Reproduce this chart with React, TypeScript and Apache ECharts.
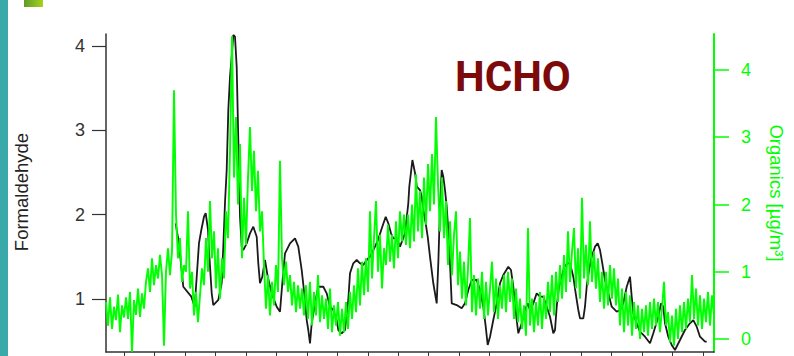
import React, { useEffect, useRef } from "react";
import * as echarts from "echarts";

// HCHO (formaldehyde) time series, left axis
const hchoTime = [
  2.287, 2.320, 2.396, 2.471, 2.537, 2.800, 2.911, 2.977, 3.052, 3.128, 3.216, 3.272, 3.348, 3.380, 3.469, 3.522,
  3.686, 3.797, 3.850, 3.905, 3.961, 4.014, 4.070, 4.125, 4.178, 4.234, 4.289, 4.342, 4.398, 4.454, 4.506, 4.618,
  4.726, 4.834, 4.946, 4.998, 5.054, 5.130, 5.218, 5.307, 5.438, 5.602, 5.711, 5.786, 5.875, 6.039, 6.203, 6.311,
  6.423, 6.508, 6.587, 6.639, 6.695, 6.751, 6.859, 6.967, 7.132, 7.243, 7.351, 7.460, 7.571, 7.624, 7.736, 7.844,
  7.952, 8.008, 8.116, 8.228, 8.336, 8.444, 8.556, 8.664, 8.773, 8.927, 9.068, 9.180, 9.265, 9.354, 9.429, 9.541,
  9.649, 9.813, 9.921, 9.954, 10.056, 10.144, 10.200, 10.305, 10.361, 10.414, 10.492, 10.558, 10.633, 10.742,
  10.853, 10.906, 10.962, 11.017, 11.070, 11.126, 11.181, 11.234, 11.290, 11.346, 11.510, 11.674, 11.782, 11.891,
  12.002, 12.166, 12.275, 12.383, 12.462, 12.527, 12.603, 12.711, 12.823, 12.931, 13.039, 13.203, 13.292, 13.367,
  13.423, 13.479, 13.532, 13.643, 13.751, 13.840, 13.915, 14.024, 14.135, 14.244, 14.352, 14.464, 14.572, 14.680,
  14.736, 14.792, 14.867, 14.956, 15.041, 15.153, 15.228, 15.336, 15.415, 15.501, 15.556, 15.665, 15.720, 15.776,
  15.852, 15.940, 16.049, 16.137, 16.213, 16.288, 16.377, 16.433, 16.597, 16.761, 16.869, 16.977, 17.089, 17.197,
  17.253, 17.306, 17.417, 17.526, 17.690, 17.854, 17.962, 18.126, 18.215, 18.290, 18.346, 18.454, 18.566, 18.674,
  18.838, 19.002, 19.166, 19.275, 19.386, 19.495, 19.659, 19.715,
];
const hchoValue = [
  1.897, 1.818, 1.663, 1.382, 1.145, 1.027, 0.908, 1.264, 1.663, 1.818, 1.975, 2.019, 1.818, 1.580, 1.067, 0.928,
  0.988, 1.189, 1.620, 2.138, 2.529, 3.241, 3.635, 3.873, 4.130, 4.110, 3.754, 2.885, 1.975, 1.620, 1.580, 1.660,
  1.778, 1.857, 1.738, 1.423, 1.186, 1.264, 1.462, 1.264, 1.067, 0.908, 0.849, 1.186, 1.541, 1.660, 1.719, 1.620,
  1.343, 1.067, 0.750, 0.632, 0.474, 0.711, 0.948, 1.145, 1.145, 1.067, 0.908, 0.869, 0.750, 0.632, 0.593, 0.632,
  0.988, 1.304, 1.423, 1.462, 1.423, 1.403, 1.462, 1.501, 1.580, 1.699, 1.857, 1.975, 1.897, 1.778, 1.719, 1.719,
  1.620, 1.778, 2.134, 2.331, 2.648, 2.490, 2.331, 2.292, 2.212, 2.055, 1.897, 1.738, 1.501, 1.186,
  0.948, 1.423, 2.094, 2.529, 2.450, 2.292, 2.094, 1.818, 1.423, 0.948, 0.928, 0.889, 0.948, 1.106,
  1.225, 1.225, 1.106, 0.908, 0.671, 0.454, 0.552, 0.750, 0.948, 1.186, 1.284, 1.382, 1.343, 1.145,
  0.948, 0.750, 0.593, 0.711, 0.869, 0.948, 0.869, 0.948, 1.067, 1.027, 1.027, 0.908, 0.789, 0.593,
  0.632, 0.908, 1.145, 1.264, 1.382, 1.423, 1.423, 1.264, 1.067, 0.869, 0.770, 0.770, 0.908, 1.145,
  1.343, 1.501, 1.620, 1.660, 1.580, 1.423, 1.225, 1.145, 0.908, 0.849, 0.869, 0.948, 1.145, 1.264,
  1.027, 0.830, 0.711, 0.612, 0.552, 0.474, 0.593, 0.789, 0.948, 0.908, 0.711, 0.552, 0.454, 0.395,
  0.513, 0.632, 0.711, 0.750, 0.671, 0.552, 0.493, 0.493,
];

// Organics (µg/m³), right axis, sampled on a regular time grid
const organicsStart = 0;
const organicsEnd = 19.954;
const organicsValue = [
  0.55, 0.2, 0.62, 0.15, 0.48, 0.28, 0.66, 0.1, 0.5, 0.32,
  0.62, 0.3, 0.7, -0.19, 0.58, 0.36, 0.75, 0.33, 0.68, 0.45,
  0.85, 1.05, 0.7, 1.2, 0.8, 1.1, 0.9, 1.25, 0.95, -0.1,
  1.0, 1.35, 0.95, 1.3, 3.7, 1.85, 1.2, 1.5, 0.85, 1.1,
  1.0, 1.9, 0.75, 1.0, 0.35, 0.7, 0.25, 0.65, 1.05, 0.8,
  1.5, 1.0, 2.05, 1.2, 1.6, 0.75, 1.35, 0.6, 1.2, 0.9,
  1.9, 1.5, 2.8, 4.5, 2.4, 3.3, 2.0, 2.9, 1.2, 2.1,
  1.4, 2.4, 3.15, 2.2, 2.8, 1.9, 2.5, 1.6, 1.9, 1.1,
  0.45, 0.95, 0.35, 0.85, 0.5, 1.1, 0.7, 2.65, 1.2, 0.8,
  1.15, 0.7, 0.95, 0.5, 0.85, 0.4, 0.8, 0.45, 0.75, 0.35,
  0.8, 0.3, 0.85, 0.2, 0.7, 0.35, 0.95, 0.25, 0.65, 0.3,
  0.6, 0.15, 0.75, 0.1, 0.5, 0.2, 0.55, 0.05, 0.45, 0.1,
  0.55, 0.15, 0.7, 0.3, 0.8, 0.4, 1.05, 0.5, 1.15, 0.65,
  1.2, 0.7, 1.9, 0.9, 1.5, 2.05, 1.0, 1.55, 0.75, 1.35,
  1.1, 1.7, 1.15, 1.55, 1.05, 1.75, 1.2, 1.9, 1.45, 1.85,
  1.4, 1.85, 1.35, 2.0, 1.45, 2.45, 1.6, 2.2, 1.5, 2.4,
  1.7, 2.6, 1.9, 2.75, 2.0, 3.3, 2.3, 1.6, 2.4, 1.5,
  2.05, 1.1, 1.75, 0.95, 1.55, 1.9, 0.8, 1.3, 0.6, 1.15,
  0.5, 1.05, 1.8, 0.4, 0.95, 0.35, 0.9, 0.45, 1.0, 0.3,
  0.85, 0.35, 0.75, 1.15, 0.4, 0.9, 0.3, 0.8, 0.45, 0.95,
  0.4, 1.0, 0.55, 0.9, 0.3, 0.75, 0.25, 0.6, 0.15, 0.5,
  0.05, 1.65, 0.2, 0.6, 0.1, 0.55, 0.2, 0.7, 0.15, 0.65,
  0.3, 0.85, 0.4, 0.95, 0.35, 1.0, 0.55, 1.1, 0.6, 1.25,
  0.7, 1.6, 0.85, 1.3, 1.65, 0.75, 1.35, 0.6, 2.1, 0.9,
  1.4, 0.8, 1.75, 0.85, 1.3, 0.75, 1.2, 0.55, 1.0, 0.45,
  1.0, 0.5, 1.1, 0.6, 1.05, 0.5, 0.9, 0.2, 0.75, 0.1,
  0.7, 0.2, 0.65, 0.05, 0.55, 0.15, 0.5, 0.0, 0.45, 0.1,
  0.5, 0.05, 0.55, 0.15, 0.6, 0.2, 0.55, 0.1, 0.45, 0.85,
  0.2, 0.4, -0.05, 0.35, -0.1, 0.45, 0.0, 0.5, 0.1, 0.55,
  0.15, 0.6, 0.25, 0.95, 0.3, 0.75, 0.2, 0.65, 0.15, 0.6,
  0.25, 0.7, 0.2, 0.65, 0.35,
];

const xTicks = [0.591, 1.591, 2.591, 3.591, 4.591, 5.591, 6.591, 7.591, 8.591, 9.591,
  10.591, 11.591, 12.591, 13.591, 14.591, 15.591, 16.591, 17.591, 18.591, 19.591];
const leftTicks = [1, 2, 3, 4];
const rightTicks = [0, 1, 2, 3, 4];

const GREEN = "#00ff00";

export default function App() {
  const ref = useRef<HTMLDivElement>(null);
  useEffect(() => {
    if (!ref.current) return;
    const chart = echarts.init(ref.current, null, { renderer: "svg" });
    const step = (organicsEnd - organicsStart) / (organicsValue.length - 1);
    const organicsData = organicsValue.map((v, i) => [organicsStart + i * step, v]);
    const hchoData = hchoValue.map((v, i) => [hchoTime[i], v]);
    chart.setOption({
      animation: false,
      backgroundColor: "#ffffff",
      grid: { left: 106, right: 80, top: 34, bottom: 4, containLabel: false },
      xAxis: {
        type: "value",
        min: 0,
        max: 19.954,
        axisLine: { show: true, onZero: false, lineStyle: { color: "#333", width: 1.5 } },
        axisTick: { show: true, customValues: xTicks, length: 6, lineStyle: { color: "#333", width: 1 } },
        axisLabel: { show: false },
        splitLine: { show: false },
      },
      yAxis: [
        {
          type: "value",
          position: "left",
          min: 0.371,
          max: 4.142,
          axisLine: { show: true, onZero: false, lineStyle: { color: "#333", width: 1.5 } },
          axisTick: { show: true, customValues: leftTicks, length: 14, lineStyle: { color: "#333", width: 1.2 } },
          axisLabel: {
            customValues: leftTicks,
            color: "#333",
            fontSize: 18,
            fontFamily: "Liberation Sans, Arial, sans-serif",
            margin: 21,
          },
          splitLine: { show: false },
        },
        {
          type: "value",
          position: "right",
          min: -0.193,
          max: 4.535,
          axisLine: { show: true, onZero: false, lineStyle: { color: GREEN, width: 2 } },
          axisTick: { show: true, customValues: rightTicks, length: 15, lineStyle: { color: GREEN, width: 1.5 } },
          axisLabel: {
            customValues: rightTicks,
            color: GREEN,
            fontSize: 18,
            fontFamily: "Liberation Sans, Arial, sans-serif",
            margin: 27,
          },
          splitLine: { show: false },
        },
      ],
      series: [
        {
          name: "Formaldehyde",
          type: "line",
          yAxisIndex: 0,
          data: hchoData,
          showSymbol: false,
          symbol: "none",
          lineStyle: { color: "#1a1a1a", width: 1.8 },
          z: 2,
        },
        {
          name: "Organics",
          type: "line",
          yAxisIndex: 1,
          data: organicsData,
          showSymbol: false,
          symbol: "none",
          lineStyle: { color: GREEN, width: 1.9, join: "miter", miterLimit: 2 },
          z: 3,
        },
      ],
      graphic: [
        { type: "rect", shape: { x: 0, y: 0, width: 8, height: 356 }, style: { fill: "#3aa9a9" }, silent: true },
        {
          type: "rect",
          shape: { x: 24, y: 0, width: 19, height: 7 },
          style: {
            fill: new echarts.graphic.LinearGradient(0, 0, 1, 0, [
              { offset: 0, color: "#5f9a2a" },
              { offset: 1, color: "#a6d21e" },
            ]),
          },
          silent: true,
        },
        {
          type: "text",
          x: 21,
          y: 192,
          rotation: Math.PI / 2,
          style: {
            text: "Formaldehyde",
            fill: "#222",
            font: "18.5px 'Liberation Sans', Arial, sans-serif",
            align: "center",
            verticalAlign: "middle",
          },
        },
        {
          type: "text",
          x: 776,
          y: 193,
          rotation: -Math.PI / 2,
          style: {
            text: "Organics [µg/m³]",
            fill: GREEN,
            font: "18.5px 'Liberation Sans', Arial, sans-serif",
            align: "center",
            verticalAlign: "middle",
          },
        },
        {
          type: "text",
          x: 455,
          y: 76,
          style: {
            text: "HCHO",
            fill: "#7d0a0a",
            font: "bold 42px Roboto, 'Open Sans', sans-serif",
            align: "left",
            verticalAlign: "middle",
          },
        },
      ],
    });
    return () => chart.dispose();
  }, []);
  return (
    <div
      ref={ref}
      style={{ position: "absolute", left: 0, top: 0, width: 794, height: 356 }}
    />
  );
}
